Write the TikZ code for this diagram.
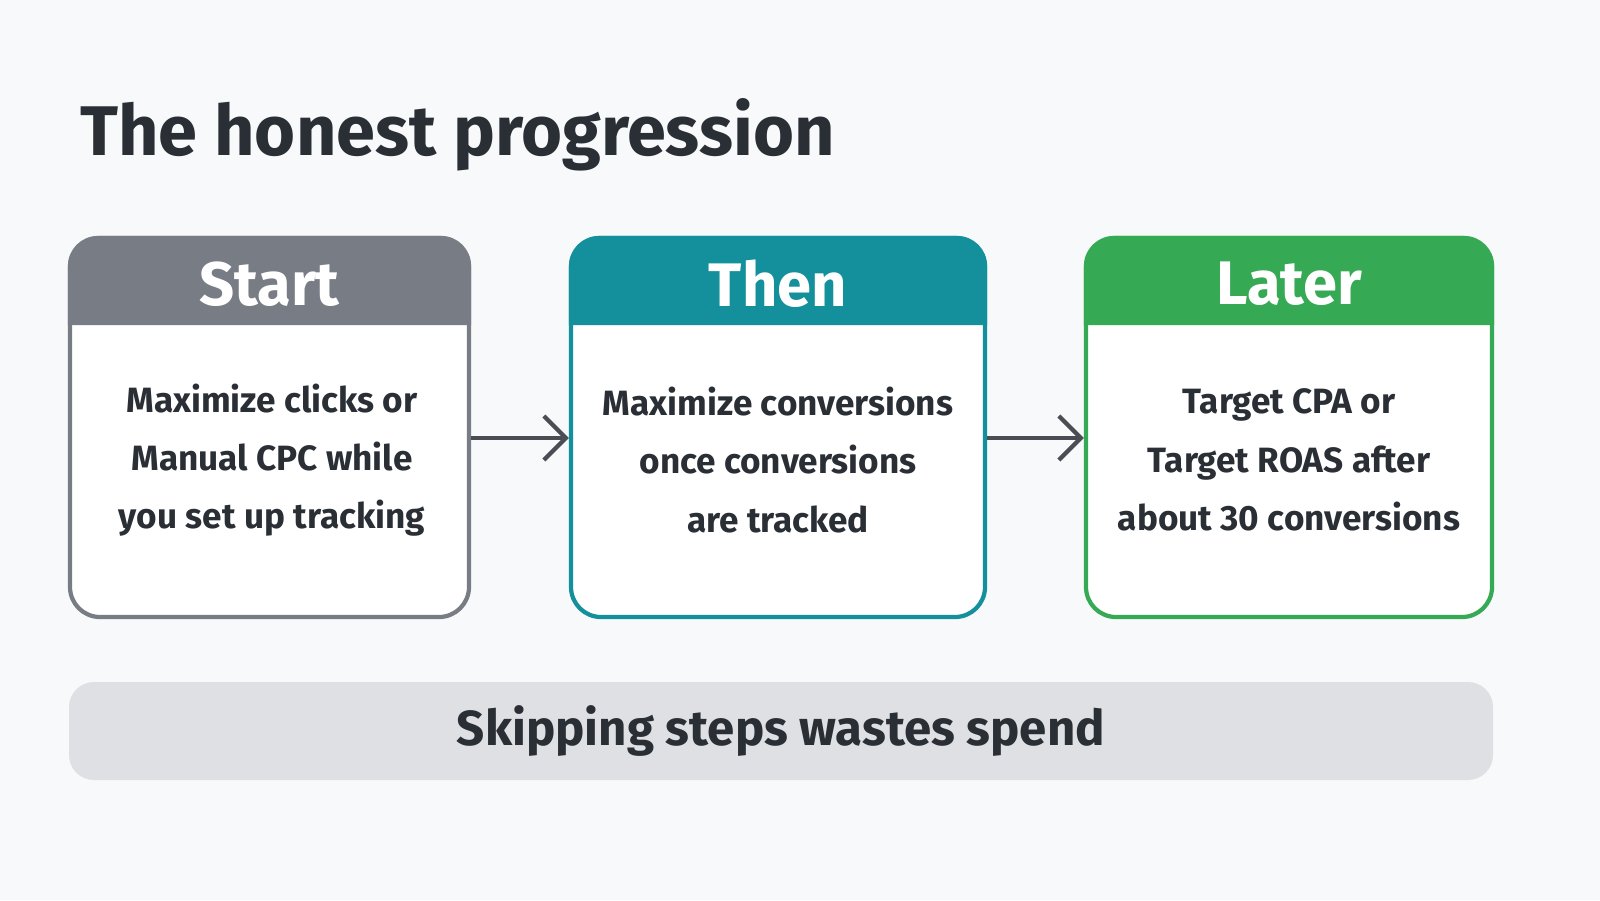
\documentclass[tikz,border=0pt]{standalone}
\usepackage{fontspec}
\setmainfont{Fira Sans}
\usetikzlibrary{arrows.meta}
\definecolor{bgcol}{HTML}{F8F9FA}
\definecolor{inkcol}{HTML}{2A2E35}
\definecolor{startcol}{HTML}{787C84}
\definecolor{thencol}{HTML}{13909C}
\definecolor{latercol}{HTML}{36A955}
\definecolor{barcol}{HTML}{DEE0E3}
\tikzset{
  card/.style={draw=#1, line width=1.2pt, fill=white, rounded corners=0.3cm, minimum height=3.79cm},
  head/.style={font=\fontsize{17.5}{21}\selectfont\bfseries, text=white},
  body/.style={font=\fontsize{10}{16.6}\selectfont\bfseries, text=inkcol, align=center},
  flow/.style={-{Straight Barb[length=2.2mm,width=4.4mm]}, line width=1.2pt, draw=inkcol!85}
}
\begin{document}
\begin{tikzpicture}
  \fill[bgcol] (0,0) rectangle (16,-9);
  \useasboundingbox (0,0) rectangle (16,-9);

  \node[anchor=base west, font=\fontsize{20}{24}\selectfont\bfseries, text=inkcol] (title) at (0.68,-1.55) {The honest progression};

  % stage cards
  \node[card=startcol, minimum width=3.99cm] (start) at (2.695,-4.275) {};
  \node[card=thencol, minimum width=4.14cm] (then) at (7.78,-4.275) {};
  \node[card=latercol, minimum width=4.06cm] (later) at (12.89,-4.275) {};

  \fill[startcol, rounded corners=0.3cm] (start.west |- 0,-3.25) -- (start.north west) -- (start.north east) [sharp corners] -- (start.east |- 0,-3.25) -- cycle;
  \fill[thencol, rounded corners=0.3cm] (then.west |- 0,-3.25) -- (then.north west) -- (then.north east) [sharp corners] -- (then.east |- 0,-3.25) -- cycle;
  \fill[latercol, rounded corners=0.3cm] (later.west |- 0,-3.25) -- (later.north west) -- (later.north east) [sharp corners] -- (later.east |- 0,-3.25) -- cycle;

  \node[head] (starthead) at (2.695,-2.84) {Start};
  \node[head] (thenhead) at (7.78,-2.84) {Then};
  \node[head] (laterhead) at (12.89,-2.84) {Later};

  \node[body] (starttext) at (2.72,-4.6) {Maximize clicks or\\Manual CPC while\\you set up tracking};
  \node[body] (thentext) at (7.78,-4.6) {Maximize conversions\\once conversions\\are tracked};
  \node[body] (latertext) at (12.89,-4.6) {Target CPA or\\Target ROAS after\\about 30 conversions};

  \draw[flow] (start.east |- 0,-4.38) -- (then.west |- 0,-4.38);
  \draw[flow] (then.east |- 0,-4.38) -- (later.west |- 0,-4.38);

  % takeaway bar
  \node[fill=barcol, rounded corners=0.25cm, minimum width=14.24cm, minimum height=0.98cm,
        font=\fontsize{14}{18}\selectfont\bfseries, text=inkcol] (note) at (7.81,-7.31) {Skipping steps wastes spend};
\end{tikzpicture}
\end{document}
